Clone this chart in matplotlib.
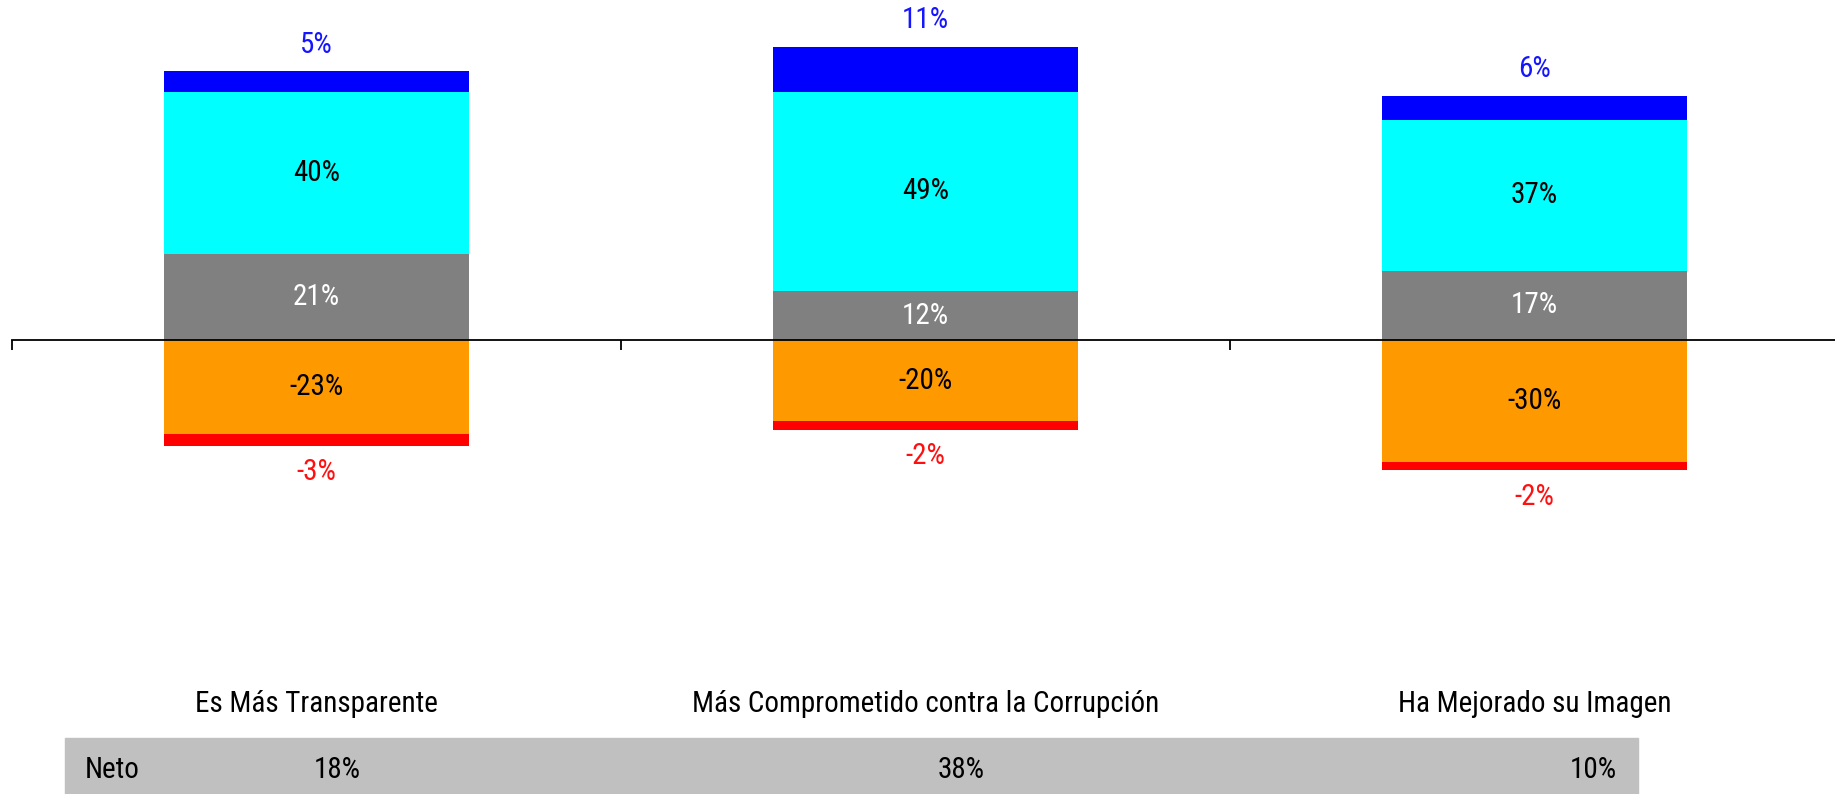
import matplotlib
matplotlib.use("Agg")
import matplotlib.pyplot as plt
from matplotlib import font_manager
import numpy as np

# Data
categories = ["Es Más Transparente", "Más Comprometido contra la Corrupción", "Ha Mejorado su Imagen"]
gris = [21, 12, 17]
celeste = [40, 49, 37]
azul = [5, 11, 6]
naranja = [-23, -20, -30]
rojo = [-3, -2, -2]
neto_labels = ["18%", "38%", "10%"]

# pick a narrow font if there is one
installed = {f.name for f in font_manager.fontManager.ttflist}
fam = "DejaVu Sans"
for name in ["Liberation Sans Narrow", "Arial Narrow", "Roboto Condensed", "Liberation Sans"]:
    if name in installed:
        fam = name
        break
plt.rcParams["font.family"] = [fam, "DejaVu Sans"]

W, H = 1835, 794
fig = plt.figure(figsize=(W / 100, H / 100), dpi=100)
ax = fig.add_axes([12 / W, 114 / H, 1827 / W, 680 / H])

x = np.arange(len(categories))
gris = np.array(gris)
celeste = np.array(celeste)
azul = np.array(azul)
naranja = np.array(naranja)
rojo = np.array(rojo)

bw = 0.5
ax.bar(x, gris, bw, color="#808080")
ax.bar(x, celeste, bw, bottom=gris, color="#00FFFF")
ax.bar(x, azul, bw, bottom=gris + celeste, color="#0000FF")
ax.bar(x, naranja, bw, color="#FF9900")
ax.bar(x, rojo, bw, bottom=naranja, color="#FF0000")

fs = 21
for i in range(len(x)):
    ax.text(x[i], gris[i] / 2, f"{gris[i]}%", ha="center", va="center", color="white", fontsize=fs)
    ax.text(x[i], gris[i] + celeste[i] / 2, f"{celeste[i]}%", ha="center", va="center", color="black", fontsize=fs)
    ax.text(x[i], gris[i] + celeste[i] + azul[i] + 6.5, f"{azul[i]}%", ha="center", va="center", color="#1515FF", fontsize=fs)
    ax.text(x[i], naranja[i] / 2, f"{naranja[i]}%", ha="center", va="center", color="black", fontsize=fs)
    ax.text(x[i], naranja[i] + rojo[i] - 6.5, f"{rojo[i]}%", ha="center", va="center", color="#FF1010", fontsize=fs)

ax.set_xlim(-0.5, 2.5)
ax.set_ylim(-83.5, 83.5)
for s in ["top", "right", "left"]:
    ax.spines[s].set_visible(False)
ax.spines["bottom"].set_position(("data", 0))
ax.spines["bottom"].set_linewidth(1.3)
ax.set_yticks([])
ax.set_xticks([-0.5, 0.5, 1.5, 2.5])
ax.set_xticklabels([])
ax.tick_params(axis="x", direction="out", length=7.5, width=1.3)

# category names under the chart
for i, c in enumerate(categories):
    xf = (12 + 609 * (i + 0.5)) / W
    fig.text(xf, 1 - 704 / H, c, ha="center", va="center", fontsize=fs)

# Neto row
fig.patches.append(plt.Rectangle((65 / W, 0), (1638 - 65) / W, 56 / H,
                                 transform=fig.transFigure, color="#C0C0C0", zorder=0))
fig.text(85 / W, 1 - 770 / H, "Neto", ha="left", va="center", fontsize=fs)
for xp, lab in zip([337, 961, 1593], neto_labels):
    fig.text(xp / W, 1 - 770 / H, lab, ha="center", va="center", fontsize=fs)

fig.savefig("out.png", dpi=100)
